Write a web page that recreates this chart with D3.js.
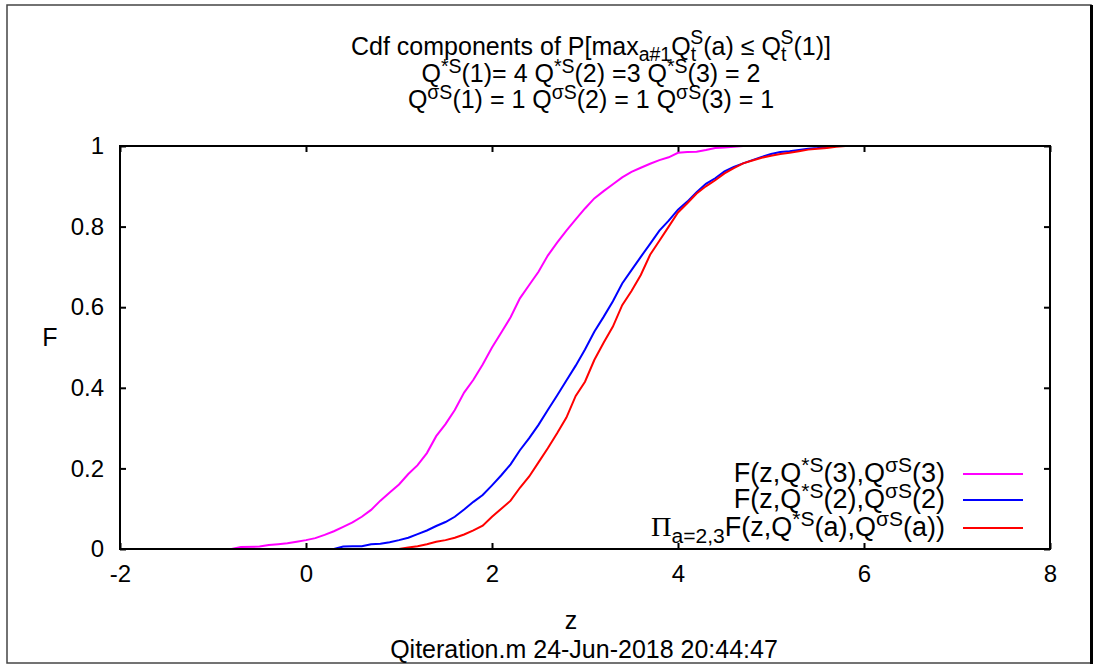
<!DOCTYPE html>
<html>
<head>
<meta charset="utf-8">
<script src="https://cdn.jsdelivr.net/npm/d3@7"></script>
<style>
  body { margin: 0; background: #fff; }
  text { font-family: "Liberation Sans", Arial, sans-serif; fill: #000; }
</style>
</head>
<body>
<div id="chart"></div>
<script>
// curve values: [z, F]
var cdfQ3 = [[-2,0],[-0.8,0],[-0.7,0.005],[-0.5,0.006],[-0.4,0.010],[-0.3,0.012],[-0.2,0.014],[-0.1,0.018],
  [0.0,0.022],[0.1,0.027],[0.2,0.035],[0.3,0.044],[0.4,0.055],[0.5,0.066],[0.6,0.080],[0.7,0.097],[0.8,0.120],
  [0.9,0.140],[1.0,0.160],[1.1,0.186],[1.2,0.208],[1.3,0.238],[1.4,0.280],[1.5,0.310],[1.6,0.345],[1.7,0.388],
  [1.8,0.420],[1.9,0.458],[2.0,0.500],[2.1,0.537],[2.2,0.575],[2.3,0.622],[2.4,0.655],[2.5,0.688],[2.6,0.728],
  [2.7,0.760],[2.8,0.790],[2.9,0.818],[3.0,0.845],[3.1,0.870],[3.2,0.888],[3.3,0.905],[3.4,0.922],[3.5,0.936],
  [3.6,0.946],[3.7,0.956],[3.8,0.965],[3.9,0.972],[4.0,0.983],[4.1,0.985],[4.2,0.986],[4.3,0.990],[4.4,0.995],
  [4.5,0.996],[4.6,0.998],[4.7,1.0],[8,1.0]];

var cdfQ2 = [[-2,0],[0.3,0],[0.4,0.006],[0.5,0.007],[0.6,0.007],[0.7,0.012],[0.8,0.013],[0.9,0.017],[1.0,0.022],
  [1.1,0.028],[1.2,0.037],[1.3,0.046],[1.4,0.057],[1.5,0.067],[1.6,0.080],[1.7,0.098],[1.8,0.117],[1.9,0.134],
  [2.0,0.158],[2.1,0.183],[2.2,0.210],[2.3,0.245],[2.4,0.275],[2.5,0.308],[2.6,0.345],[2.7,0.381],[2.8,0.418],
  [2.9,0.455],[3.0,0.495],[3.1,0.539],[3.2,0.576],[3.3,0.615],[3.4,0.659],[3.5,0.692],[3.6,0.725],[3.7,0.757],
  [3.8,0.790],[3.9,0.815],[4.0,0.842],[4.1,0.862],[4.2,0.885],[4.3,0.906],[4.4,0.920],[4.5,0.937],[4.6,0.948],
  [4.7,0.957],[4.8,0.965],[4.9,0.973],[5.0,0.980],[5.1,0.985],[5.2,0.987],[5.3,0.990],[5.4,0.993],[5.5,0.995],
  [5.6,0.998],[5.7,1.0],[8,1.0]];

var cdfProd = [[-2,0],[1.0,0],[1.1,0.004],[1.2,0.007],[1.3,0.012],[1.4,0.018],[1.5,0.022],[1.6,0.028],[1.7,0.036],
  [1.8,0.046],[1.9,0.058],[2.0,0.080],[2.1,0.100],[2.2,0.120],[2.3,0.152],[2.4,0.180],[2.5,0.215],[2.6,0.250],
  [2.7,0.287],[2.8,0.326],[2.9,0.380],[3.0,0.415],[3.1,0.469],[3.2,0.512],[3.3,0.552],[3.4,0.605],[3.5,0.640],
  [3.6,0.680],[3.7,0.730],[3.8,0.765],[3.9,0.800],[4.0,0.835],[4.1,0.858],[4.2,0.882],[4.3,0.900],[4.4,0.915],
  [4.5,0.932],[4.6,0.945],[4.7,0.957],[4.8,0.964],[4.9,0.971],[5.0,0.976],[5.1,0.980],[5.2,0.983],[5.3,0.987],
  [5.4,0.991],[5.5,0.993],[5.6,0.995],[5.7,0.998],[5.8,1.0],[8,1.0]];

var xTicks = [-2, 0, 2, 4, 6, 8];
var yTicks = [0, 0.2, 0.4, 0.6, 0.8, 1];
var seriesColors = ["#ff00ff", "#0000ff", "#ff0000"];

// rich text pieces: [text, mode]  mode: n normal, sup, sub, back (sup stacked over previous sub)
var titleLines = [
  [["Cdf components of P[max","n"],["a#1","sub"],["Q","n"],["t","sub"],["S","back"],["(a) \u2264 Q","n"],["t","sub"],["S","back"],["(1)]","n"]],
  [["Q","n"],["*S","sup"],["(1)= 4 Q","n"],["*S","sup"],["(2) =3 Q","n"],["*S","sup"],["(3) = 2","n"]],
  [["Q","n"],["\u03c3S","sup"],["(1) = 1 Q","n"],["\u03c3S","sup"],["(2) = 1 Q","n"],["\u03c3S","sup"],["(3) = 1","n"]]
];
var legendLabels = [
  [["F(z,Q","n"],["*S","sup"],["(3),Q","n"],["\u03c3S","sup"],["(3)","n"]],
  [["F(z,Q","n"],["*S","sup"],["(2),Q","n"],["\u03c3S","sup"],["(2)","n"]],
  [["\u03a0","pi"],["a=2,3","sub"],["F(z,Q","n"],["*S","sup"],["(a),Q","n"],["\u03c3S","sup"],["(a))","n"]]
];

var W = 1094, H = 666;
var margin = {top: 146, right: 44, bottom: 117, left: 120};
var width = W - margin.left - margin.right,
    height = H - margin.top - margin.bottom;

var svg = d3.select("#chart").append("svg")
  .attr("width", W).attr("height", H);

// outer figure frame
svg.append("rect").attr("x", 7).attr("y", 5).attr("width", 1084).attr("height", 658)
  .attr("fill", "none").attr("stroke", "#444").attr("stroke-width", 1.5);
svg.append("line").attr("x1", 1091.5).attr("x2", 1091.5).attr("y1", 5).attr("y2", 664)
  .attr("stroke", "#000").attr("stroke-width", 3);

var g = svg.append("g").attr("transform", "translate(" + margin.left + "," + margin.top + ")");

var x = d3.scaleLinear().domain([-2, 8]).range([0, width]);
var y = d3.scaleLinear().domain([0, 1]).range([height, 0]);

var fs = 24;

// axes with inward ticks on all four sides
g.append("g").attr("transform", "translate(0," + height + ")")
  .call(d3.axisBottom(x).tickValues(xTicks).tickSize(-6).tickPadding(16).tickFormat(d => String(d)))
  .call(a => a.select(".domain").remove())
  .call(a => a.selectAll("text").style("font-size", fs + "px").attr("font-family", null));
g.append("g")
  .call(d3.axisTop(x).tickValues(xTicks).tickSize(-6).tickFormat(""))
  .call(a => a.select(".domain").remove());
g.append("g")
  .call(d3.axisLeft(y).tickValues(yTicks).tickSize(-6).tickPadding(16).tickFormat(d => String(d)))
  .call(a => a.select(".domain").remove())
  .call(a => a.selectAll("text").style("font-size", fs + "px").attr("font-family", null));
g.append("g").attr("transform", "translate(" + width + ",0)")
  .call(d3.axisRight(y).tickValues(yTicks).tickSize(-6).tickFormat(""))
  .call(a => a.select(".domain").remove());
g.selectAll(".tick line").attr("stroke", "#000").attr("stroke-width", 2);

// curves
var line = d3.line().x(d => x(d[0])).y(d => y(d[1]));
[cdfQ3, cdfQ2, cdfProd].forEach(function(s, i) {
  g.append("path").datum(s).attr("d", line)
    .attr("fill", "none").attr("stroke", seriesColors[i]).attr("stroke-width", 2);
});

// plot box
g.append("rect").attr("width", width).attr("height", height)
  .attr("fill", "none").attr("stroke", "#000").attr("stroke-width", 2);

function rich(sel, parts, size) {
  var small = size * 0.78, shift = 0;
  parts.forEach(function(p) {
    var t = sel.append("tspan").text(p[0]);
    var target = 0;
    if (p[1] == "sup") { t.style("font-size", small + "px"); target = -size * 0.38; }
    else if (p[1] == "sub") { t.style("font-size", small + "px"); target = size * 0.25; }
    else if (p[1] == "back") {
      t.style("font-size", small + "px"); target = -size * 0.45;
      t.attr("dx", -small * 0.3);
    }
    else if (p[1] == "pi") { t.style("font-family", "'Liberation Serif', serif").style("font-size", (size * 1.05) + "px"); }
    else { t.style("font-size", size + "px"); }
    t.attr("dy", target - shift);
    shift = target;
  });
}

// title
var titleY = [55, 82, 108];
titleLines.forEach(function(parts, i) {
  var t = svg.append("text").attr("x", 591).attr("y", titleY[i]).attr("text-anchor", "middle");
  rich(t, parts, 25);
});

// axis labels and footer
svg.append("text").attr("x", 50).attr("y", 346).attr("text-anchor", "middle")
  .style("font-size", "25px").text("F");
svg.append("text").attr("x", 571).attr("y", 629).attr("text-anchor", "middle")
  .style("font-size", "25px").text("z");
svg.append("text").attr("x", 584).attr("y", 658).attr("text-anchor", "middle")
  .style("font-size", "25px").text("Qiteration.m 24-Jun-2018 20:44:47");

// legend
var legY = [474, 500, 528];
legendLabels.forEach(function(parts, i) {
  svg.append("line").attr("x1", 963).attr("x2", 1023).attr("y1", legY[i]).attr("y2", legY[i])
    .attr("stroke", seriesColors[i]).attr("stroke-width", 2);
  var t = svg.append("text").attr("x", 945).attr("y", legY[i] + 8).attr("text-anchor", "end");
  rich(t, parts, 27);
});
</script>
</body>
</html>
